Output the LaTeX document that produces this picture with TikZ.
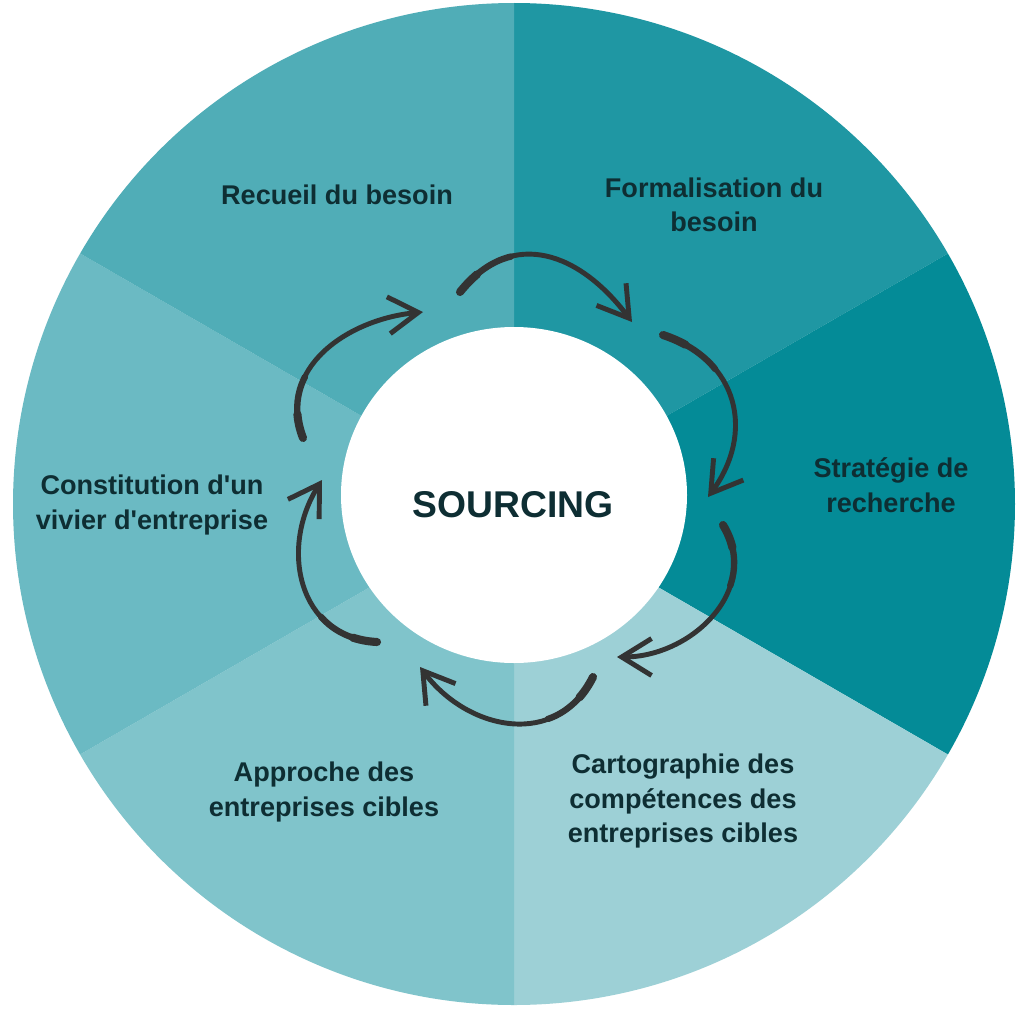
\documentclass[tikz,border=0pt]{standalone}
\usepackage{fontspec}
\setmainfont{Liberation Sans}
\usetikzlibrary{arrows.meta}

\definecolor{recueil}{HTML}{50ADB7}
\definecolor{formal}{HTML}{1F97A3}
\definecolor{strat}{HTML}{048B97}
\definecolor{carto}{HTML}{9DD0D6}
\definecolor{approche}{HTML}{80C4CB}
\definecolor{vivier}{HTML}{6BBAC3}
\definecolor{ink}{HTML}{0E2E33}
\definecolor{arrowgray}{HTML}{333333}

\begin{document}
\begin{tikzpicture}[x=0.01cm, y=-0.01cm, >={Straight Barb[length=8.5pt,width=10.5pt]},
  every node/.style={font=\bfseries\fontsize{7.7}{9.8}\selectfont, text=ink, align=center},
  arr/.style={->, line width=1.4pt, draw=arrowgray, line cap=round, line join=round},
  blob/.style={line width=#1, draw=arrowgray, line cap=round}]
\fill[white] (0,0) rectangle (1024,1024);
\useasboundingbox (0,0) rectangle (1024,1024);
\coordinate (c) at (514,504);
% six sectors, angles mirrored because y points down
\foreach \a/\col in {-90/formal, -30/strat, 30/carto, 90/approche, 150/vivier, 210/recueil}
  \fill[\col] (c) -- ++(\a:501) arc[start angle=\a, end angle=\a+60, radius=501] -- cycle;
\fill[white] (514,495) ellipse [x radius=173, y radius=168];
\node[font=\bfseries\fontsize{10.6}{12}\selectfont] (sourcing) at (513,505) {SOURCING};

\node (recueil) at (337,195) {Recueil du besoin};
\node (formal) at (714,205) {Formalisation du\\besoin};
\node (strat) at (891,485) {Stratégie de\\recherche};
\node (carto) at (683,801) {Cartographie des\\compétences des\\entreprises cibles};
\node (approche) at (324,792) {Approche des\\entreprises cibles};
\node (vivier) at (152,505) {Constitution d\textquotesingle un\\vivier d\textquotesingle entreprise};

% cycle arrows: start, control, control, tip (thicker brush at the start)
\foreach \sx/\sy/\px/\py/\qx/\qy/\tx/\ty in {
    460/292/513/226/581/254/632/322,
    663/335/739/360/755/433/708/497,
    723/525/762/589/692/657/617/657,
    593/677/557/749/468/731/420/667,
    377/642/298/638/279/548/322/480,
    303/438/276/368/348/319/423/312} {
  \draw[arr] (\sx,\sy) .. controls (\px,\py) and (\qx,\qy) .. (\tx,\ty);
  \draw[blob=1.8pt, dash pattern=on 18pt off 500pt] (\sx,\sy) .. controls (\px,\py) and (\qx,\qy) .. (\tx,\ty);
  \draw[blob=2.3pt, dash pattern=on 7pt off 500pt] (\sx,\sy) .. controls (\px,\py) and (\qx,\qy) .. (\tx,\ty);
}
\end{tikzpicture}
\end{document}
